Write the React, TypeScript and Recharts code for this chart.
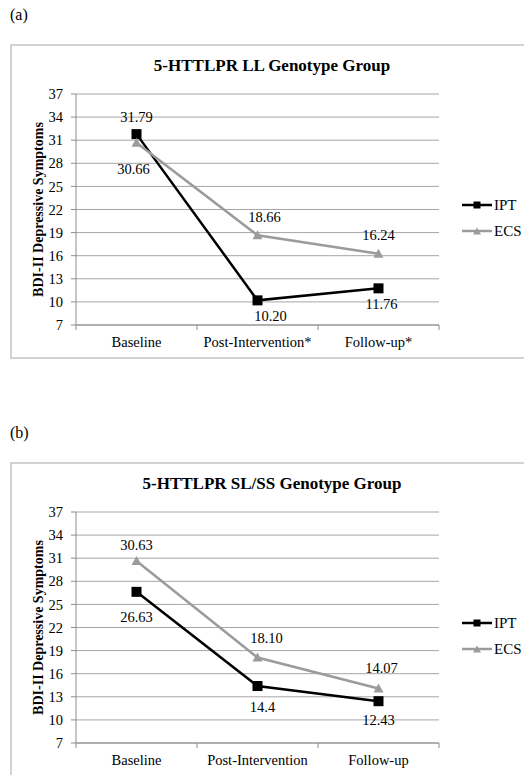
import React from 'react';
import { CartesianGrid, LabelList, Line, LineChart, XAxis, YAxis } from 'recharts';

// panel (a): LL genotype
const llCategories = ['Baseline', 'Post-Intervention*', 'Follow-up*'];
const llIpt = [31.79, 10.2, 11.76];
const llEcs = [30.66, 18.66, 16.24];
const llIptText = ['31.79', '10.20', '11.76'];
const llEcsText = ['30.66', '18.66', '16.24'];

// panel (b): SL/SS genotype
const slCategories = ['Baseline', 'Post-Intervention', 'Follow-up'];
const slIpt = [26.63, 14.4, 12.43];
const slEcs = [30.63, 18.1, 14.07];
const slIptText = ['26.63', '14.4', '12.43'];
const slEcsText = ['30.63', '18.10', '14.07'];

const yTicks = [7, 10, 13, 16, 19, 22, 25, 28, 31, 34, 37];
const xTicks = [0, 0.5, 1, 1.5, 2, 2.5, 3];

const FONT = 'Liberation Serif';
const GRAY = '#9b9b9b';
const GRID = '#a6a6a6';
const AXIS = '#8c8c8c';

type Offset = [number, number];

// label offsets (dx, dy) from each point, as Excel placed them
const llIptOffsets: Offset[] = [[0, -17], [13, 16], [3, 16]];
const llEcsOffsets: Offset[] = [[-3, 26], [7, -18], [0, -19]];
const slIptOffsets: Offset[] = [[0, 25], [5, 21], [0, 19]];
const slEcsOffsets: Offset[] = [[0, -16], [9, -20], [3, -21]];

const buildRows = (ipt: number[], ecs: number[]) =>
  ipt.map((v, i) => ({ pos: i + 0.5, ipt: v, ecs: ecs[i] }));

const Square = ({ cx, cy }: any) => (
  <rect x={cx - 5} y={cy - 5} width={10} height={10} fill="#000" />
);

const Triangle = ({ cx, cy }: any) => (
  <polygon points={`${cx},${cy - 5} ${cx + 5},${cy + 4} ${cx - 5},${cy + 4}`} fill={GRAY} />
);

const XTick = ({ x, y, payload, labels }: any) => {
  const v = payload.value;
  if (Number.isInteger(v)) {
    return <line x1={x} x2={x} y1={y} y2={y + 5} stroke={AXIS} />;
  }
  return (
    <text x={x} y={y + 17} textAnchor="middle" dominantBaseline="central"
      fontFamily={FONT} fontSize={14.5} fill="#000">
      {labels[Math.floor(v)]}
    </text>
  );
};

const DataLabel = ({ x, y, index, texts, offsets }: any) => (
  <text x={x + offsets[index][0]} y={y + offsets[index][1]} textAnchor="middle"
    dominantBaseline="central" fontFamily={FONT} fontSize={14.5} fill="#000">
    {texts[index]}
  </text>
);

const LegendBox = () => (
  <div style={{ position: 'absolute', left: 452, top: 148, fontFamily: FONT, fontSize: 15 }}>
    {[
      { name: 'IPT', color: '#000', shape: 'square' },
      { name: 'ECS', color: GRAY, shape: 'triangle' }
    ].map((item) => (
      <div key={item.name} style={{ display: 'flex', alignItems: 'center', height: 26 }}>
        <svg width={31} height={12}>
          <line x1={0} x2={30} y1={6} y2={6} stroke={item.color} strokeWidth={2.5} />
          {item.shape === 'square' ? (
            <rect x={11.5} y={2.5} width={7} height={7} fill="#000" />
          ) : (
            <polygon points="15,2.5 19,9.5 11,9.5" fill={GRAY} />
          )}
        </svg>
        <span style={{ marginLeft: 1 }}>{item.name}</span>
      </div>
    ))}
  </div>
);

interface PanelProps {
  top: number;
  tag: string;
  title: string;
  categories: string[];
  ipt: number[];
  ecs: number[];
  iptText: string[];
  ecsText: string[];
  iptOffsets: Offset[];
  ecsOffsets: Offset[];
}

const Panel = (p: PanelProps) => {
  const rows = buildRows(p.ipt, p.ecs);
  return (
    <>
      <div style={{ position: 'absolute', left: 10, top: p.top - 38, fontFamily: FONT, fontSize: 16 }}>
        {p.tag}
      </div>
      <div style={{
        position: 'absolute', left: 10, top: p.top, width: 530, height: 315,
        border: '2px solid #d2d2d2', boxSizing: 'border-box'
      }} />
      <div style={{ position: 'absolute', left: 10, top: p.top, width: 514, height: 314 }}>
        <div style={{
          position: 'absolute', left: 0, top: 12, width: 524, textAlign: 'center',
          fontFamily: FONT, fontWeight: 'bold', fontSize: 17
        }}>
          {p.title}
        </div>
        <LineChart width={514} height={314} data={rows}
          margin={{ top: 50, right: 85, left: 0, bottom: 0 }}>
          <CartesianGrid vertical={false} stroke={GRID} />
          <XAxis type="number" dataKey="pos" domain={[0, 3]} ticks={xTicks} height={33}
            axisLine={{ stroke: AXIS }} tickLine={false} tickSize={0} tickMargin={0}
            interval={0} tick={<XTick labels={p.categories} />} />
          <YAxis domain={[7, 37]} ticks={yTicks} width={66} interval={0}
            axisLine={{ stroke: AXIS }} tickLine={{ stroke: AXIS }} tickSize={5} tickMargin={8}
            tick={{ fontFamily: FONT, fontSize: 14.5, fill: '#000' }}
            label={{
              content: ({ viewBox }: any) => {
                const cx = 28;
                const cy = viewBox.y + viewBox.height / 2;
                return (
                  <text x={cx} y={cy} transform={`rotate(-90 ${cx} ${cy})`} textAnchor="middle"
                    dominantBaseline="central" fontFamily={FONT} fontWeight="bold" fontSize={14}>
                    BDI-II Depressive Symptoms
                  </text>
                );
              }
            }} />
          <Line type="linear" dataKey="ipt" stroke="#000" strokeWidth={2.5} isAnimationActive={false}
            dot={(d: any) => <Square key={`s${d.index}`} {...d} />} activeDot={false}>
            <LabelList dataKey="ipt"
              content={(l: any) => <DataLabel {...l} texts={p.iptText} offsets={p.iptOffsets} />} />
          </Line>
          <Line type="linear" dataKey="ecs" stroke={GRAY} strokeWidth={2.5} isAnimationActive={false}
            dot={(d: any) => <Triangle key={`t${d.index}`} {...d} />} activeDot={false}>
            <LabelList dataKey="ecs"
              content={(l: any) => <DataLabel {...l} texts={p.ecsText} offsets={p.ecsOffsets} />} />
          </Line>
        </LineChart>
        <LegendBox />
      </div>
    </>
  );
};

export default function App() {
  return (
    <div style={{ position: 'relative', width: 524, height: 775, background: '#fff', overflow: 'hidden' }}>
      <style>{'body{margin:0}'}</style>
      <Panel top={44} tag="(a)" title="5-HTTLPR LL Genotype Group" categories={llCategories}
        ipt={llIpt} ecs={llEcs} iptText={llIptText} ecsText={llEcsText}
        iptOffsets={llIptOffsets} ecsOffsets={llEcsOffsets} />
      <Panel top={462} tag="(b)" title="5-HTTLPR SL/SS Genotype Group" categories={slCategories}
        ipt={slIpt} ecs={slEcs} iptText={slIptText} ecsText={slEcsText}
        iptOffsets={slIptOffsets} ecsOffsets={slEcsOffsets} />
    </div>
  );
}
